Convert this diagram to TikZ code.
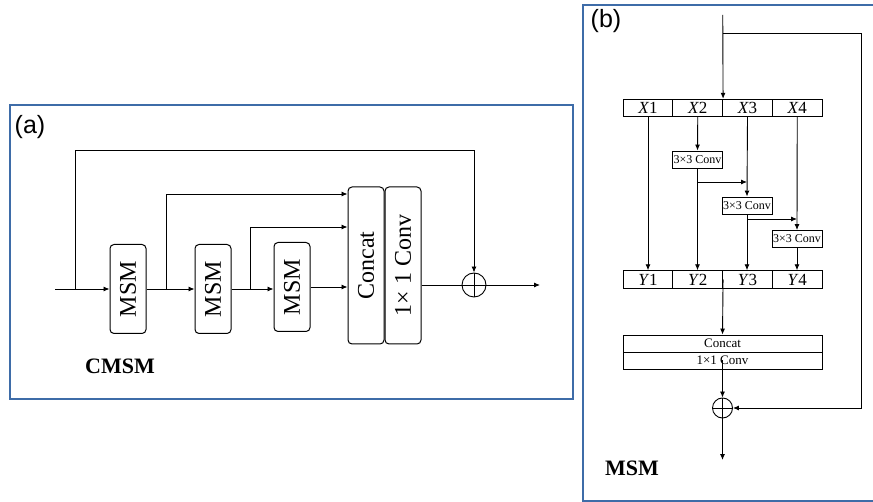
\documentclass[tikz,border=0pt]{standalone}
\usepackage{fontspec}
\setmainfont{Liberation Serif}
\newfontfamily\panelfont{Liberation Sans}
\usetikzlibrary{arrows.meta, positioning}
\definecolor{frameblue}{RGB}{62,108,168}
\tikzset{
  arr/.style={-{Latex[length=6pt,width=5pt]}},
  blk/.style={draw, rounded corners=4pt, inner sep=0pt, minimum width=36pt,
    line width=1pt, font=\fontsize{24}{26}\selectfont},
  cell/.style={draw, inner sep=0pt, minimum width=49.75pt, minimum height=17.5pt,
    font=\fontsize{17}{18}\selectfont},
  convbox/.style={draw, fill=white, inner sep=0pt, minimum width=50pt,
    minimum height=17pt, font=\fontsize{12}{13}\selectfont},
  widebox/.style={draw, inner sep=0pt, minimum width=199pt, minimum height=17pt,
    font=\fontsize{13}{14}\selectfont},
  sumnode/.style={draw, circle, inner sep=0pt, path picture={
    \draw (path picture bounding box.north) -- (path picture bounding box.south)
          (path picture bounding box.west) -- (path picture bounding box.east);}},
  frame/.style={draw=frameblue, line width=2.2pt},
  panel/.style={font=\panelfont\fontsize{25}{27}\selectfont},
  title/.style={font=\bfseries\fontsize{22}{24}\selectfont}
}
\begin{document}
\begin{tikzpicture}[x=1pt, y=-1pt, line width=0.9pt]
  \useasboundingbox (0,0) rectangle (873,502);
  % Frames
  \draw[frame] (10,105) rectangle (573,399);
  \draw[frame] (583,5) rectangle (890,501);
  \node[panel] (la) at (30,127) {(a)};
  \node[panel] (lb) at (606,21) {(b)};

  % (a) CMSM
  \node[blk, minimum height=89pt] (m1) at (128,289) {\rotatebox{90}{MSM}};
  \node[blk, minimum height=89pt] (m2) at (213,289) {\rotatebox{90}{MSM}};
  \node[blk, minimum height=89pt] (m3) at (292,287) {\rotatebox{90}{MSM}};
  \node[blk, minimum height=157pt] (cat) at (366,265.5) {\rotatebox{90}{Concat}};
  \node[blk, minimum height=157pt] (cv) at (403,265.5) {\rotatebox{90}{1× 1 Conv}};
  \node[sumnode, minimum size=24pt] (sum) at (474,285) {};
  \node[title] (cmsm) at (120,366) {CMSM};
  \coordinate (in) at (55,289);
  \coordinate (out) at (540,285);
  \coordinate (sk) at (75,289);
  \coordinate (skt) at (75,150);
  \coordinate (b1) at (166,289);
  \coordinate (t1) at (166,194);
  \coordinate (b2) at (250,289);
  \coordinate (t2) at (250,227);
  \draw[arr] (in) -- (m1.west);
  \draw[arr] (m1.east) -- (m2.west);
  \draw[arr] (m2.east) -- (m2.east -| m3.west);
  \draw[arr] (m3.east) -- (m3.east -| cat.west);
  \draw[arr] (b1) -- (t1) -- (t1 -| cat.west);
  \draw[arr] (b2) -- (t2) -- (t2 -| cat.west);
  \draw[arr] (sk) -- (skt) -| (sum.north);
  \draw (sum.west -| cv.east) -- (sum.west);
  \draw[arr] (sum.east) -- (out);

  % (b) MSM
  \foreach \i/\xx in {1/648, 2/697.75, 3/747.5, 4/797.25} {
    \node[cell] (x\i) at (\xx,108) {\textit{X}\i};
    \node[cell] (y\i) at (\xx,279.5) {\textit{Y}\i};
  }
  \node[convbox] (c2) at (697.5,159.5) {3×3 Conv};
  \node[convbox] (c3) at (747,205.5) {3×3 Conv};
  \node[convbox] (c4) at (797,239) {3×3 Conv};
  \node[widebox] (cat2) at (722.5,343.5) {Concat};
  \node[widebox] (cv2) at (722.5,360.5) {1×1 Conv};
  \node[sumnode, minimum size=20pt] (sum2) at (722.5,408) {};
  \node[title] (msm) at (632,468) {MSM};
  \coordinate (top) at (722.75,15);
  \coordinate (sp) at (722.75,33);
  \coordinate (spr) at (861,33);
  \coordinate (end) at (722.5,460);
  \coordinate (k2) at (697.5,182);
  \coordinate (k3) at (747,219);
  \draw[arr] (top) -- (x2.north east);
  \draw[arr] (sp) -- (spr) |- (sum2.east);
  \draw[arr] (x1.south) -- (y1.north);
  \draw[arr] (x2.south) -- (c2.north);
  \draw[arr] (c2.south) -- (c2.south |- y2.north);
  \draw[arr] (k2) -- (k2 -| c3.north);
  \draw[arr] (x3.south) -- (c3.north);
  \draw[arr] (c3.south) -- (c3.south |- y3.north);
  \draw[arr] (k3) -- (k3 -| c4.north);
  \draw[arr] (x4.south) -- (c4.north);
  \draw[arr] (c4.south) -- (c4.south |- y4.north);
  \draw[arr] (y2.east) -- (cat2.north);
  \draw[arr] (cv2.center) -- (sum2.north);
  \draw[arr] (sum2.south) -- (end);
\end{tikzpicture}
\end{document}
